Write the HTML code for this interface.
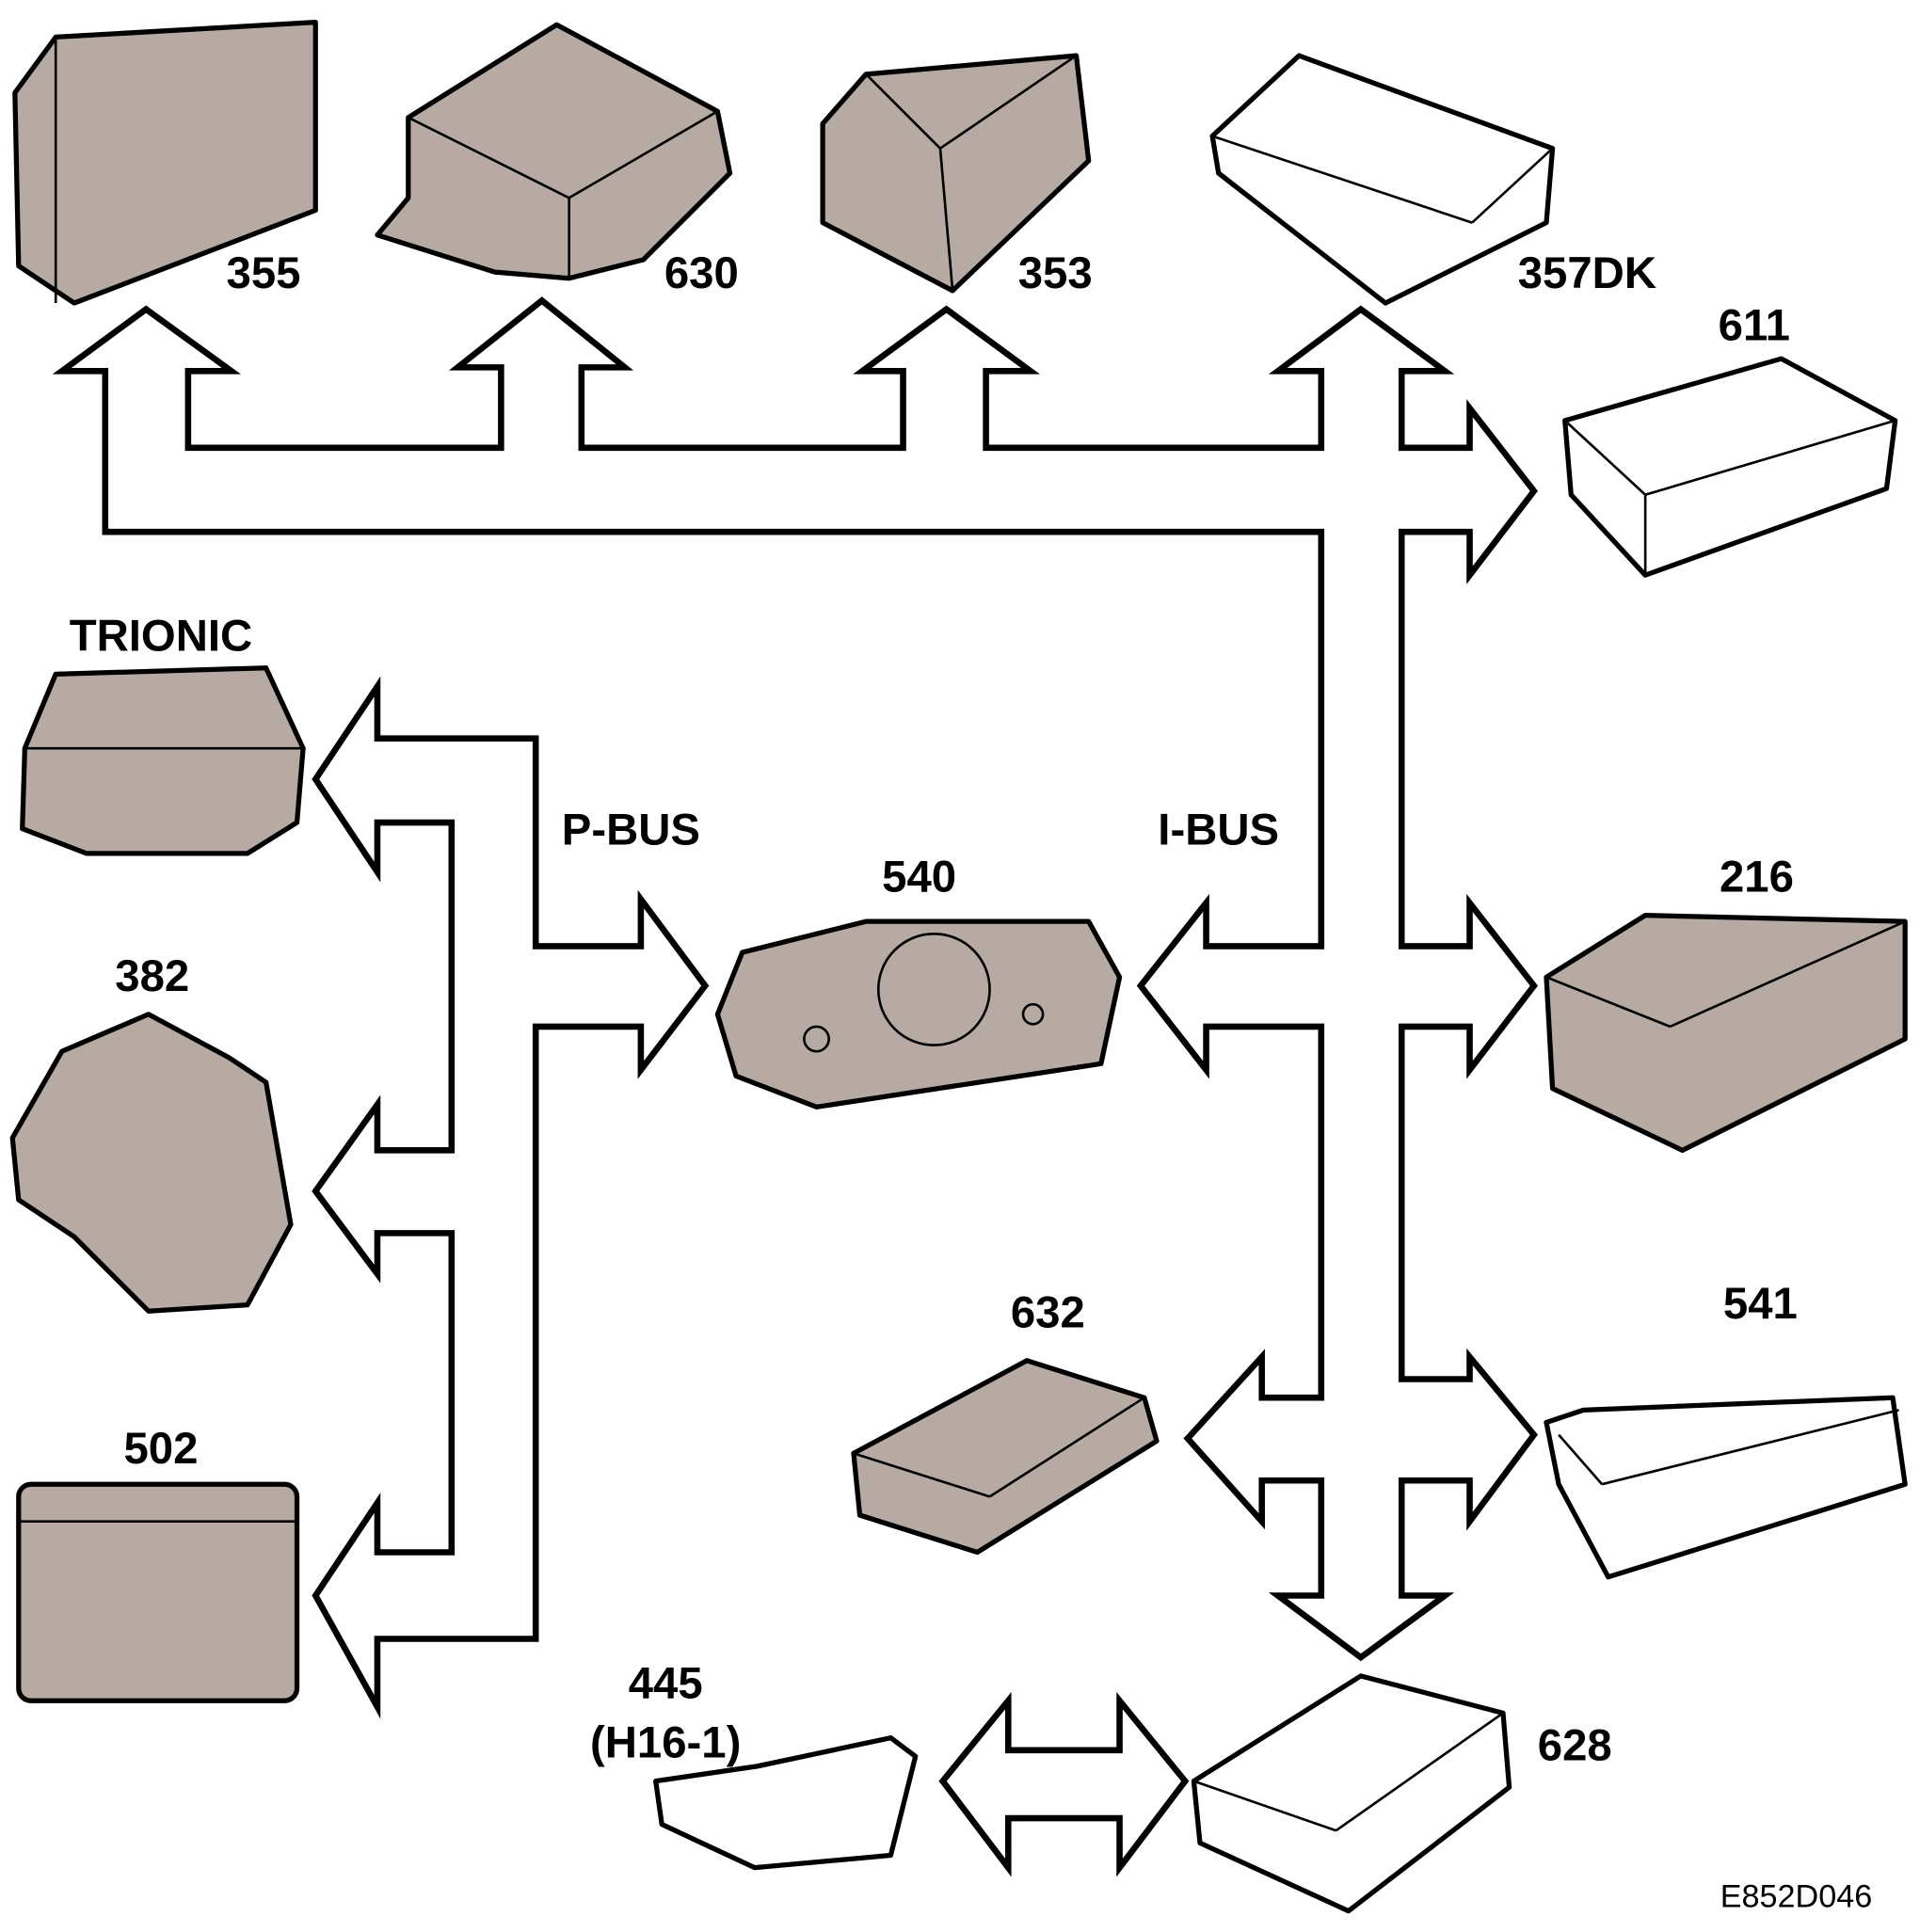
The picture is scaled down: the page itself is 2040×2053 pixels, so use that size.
<!DOCTYPE html>
<html><head><meta charset="utf-8"><style>
html,body{margin:0;padding:0;background:#fff;}
svg{display:block;}
text{font-family:"Liberation Sans",sans-serif;font-weight:bold;font-size:36px;fill:#000;}
</style></head><body>
<svg width="2040" height="2053" viewBox="0 0 1552 1562" xmlns="http://www.w3.org/2000/svg">
<g fill="#fff" stroke="#000" stroke-width="5" stroke-linejoin="miter">
<polygon points="85,430 85,300 50,300 118,250 187,300 152,300 152,362 405,362 405,297 370,297 438,243 505,297 470,297 470,362 730,362 730,300 697,300 765,250 833,300 797,300 797,362 1068,362 1068,300 1033,300 1100,250 1168,300 1133,300 1133,362 1188,362 1188,330 1240,397 1188,465 1188,430 1133,430 1133,765 1188,765 1188,730 1240,797 1188,865 1188,830 1133,830 1133,1115 1188,1115 1188,1097 1240,1160 1188,1230 1188,1197 1133,1197 1133,1290 1168,1290 1100,1340 1033,1290 1068,1290 1068,1197 1020,1197 1020,1230 960,1163 1020,1097 1020,1130 1068,1130 1068,830 975,830 975,865 922,797 975,730 975,765 1068,765 1068,430"/>
<polygon points="433,597 433,765 518,765 518,727 570,797 518,865 518,830 433,830 433,1325 305,1325 305,1380 255,1290 305,1215 305,1255 365,1255 365,997 305,997 305,1030 255,963 305,893 305,930 365,930 365,665 305,665 305,705 255,630 305,555 305,597"/>
<polygon points="762,1440 815,1375 815,1415 905,1415 905,1375 958,1440 905,1510 905,1470 815,1470 815,1510"/>
</g>
<g stroke="#000" stroke-width="4" stroke-linejoin="round">
<polygon fill="#b6aaa3" points="12,75 45,30 255,18 255,170 60,245 15,215"/>
<polygon fill="#b6aaa3" points="330,95 450,20 580,90 590,140 520,210 460,225 400,220 305,190 330,160"/>
<polygon fill="#b6aaa3" points="665,100 700,60 870,45 880,130 770,235 665,180"/>
<polygon fill="#fff" points="980,110 1050,45 1255,120 1250,180 1120,245 985,140"/>
<polygon fill="#fff" points="1265,340 1440,290 1532,340 1525,395 1330,465 1270,400"/>
<polygon fill="#b6aaa3" points="20,605 45,545 215,540 245,605 240,665 200,690 70,690 18,670"/>
<polygon fill="#b6aaa3" points="10,920 50,850 120,820 185,855 215,875 235,990 200,1055 120,1060 60,1000 15,970"/>
<rect fill="#b6aaa3" x="15" y="1200" width="225" height="175" rx="10"/>
<polygon fill="#b6aaa3" points="580,820 600,770 700,745 880,745 905,790 890,860 660,895 595,870"/>
<polygon fill="#b6aaa3" points="1250,790 1330,740 1540,745 1540,840 1360,930 1255,880"/>
<polygon fill="#b6aaa3" points="690,1175 830,1100 925,1130 935,1165 790,1255 695,1225"/>
<polygon fill="#fff" points="1250,1150 1280,1140 1530,1130 1540,1200 1300,1275 1260,1200"/>
<polygon fill="#fff" points="530,1440 612,1428 720,1405 740,1420 720,1500 610,1510 535,1475"/>
<polygon fill="#fff" points="965,1440 1100,1355 1215,1385 1220,1445 1090,1545 970,1490"/>
</g>
<g fill="none" stroke="#000" stroke-width="2">
<line x1="45" y1="30" x2="45" y2="245"/><line x1="330" y1="95" x2="460" y2="160"/><line x1="460" y1="160" x2="580" y2="90"/><line x1="460" y1="160" x2="460" y2="225"/>
<line x1="700" y1="60" x2="760" y2="120"/><line x1="760" y1="120" x2="870" y2="45"/><line x1="760" y1="120" x2="770" y2="235"/>
<line x1="980" y1="110" x2="1190" y2="180"/><line x1="1190" y1="180" x2="1255" y2="120"/>
<line x1="1265" y1="340" x2="1330" y2="400"/><line x1="1330" y1="400" x2="1532" y2="340"/><line x1="1330" y1="400" x2="1330" y2="465"/>
<line x1="20" y1="605" x2="245" y2="605"/><line x1="15" y1="1230" x2="240" y2="1230"/>
<line x1="690" y1="1175" x2="800" y2="1210"/><line x1="800" y1="1210" x2="925" y2="1130"/>
<line x1="1250" y1="790" x2="1350" y2="830"/><line x1="1350" y1="830" x2="1540" y2="745"/>
<line x1="1260" y1="1160" x2="1295" y2="1200"/><line x1="1295" y1="1200" x2="1535" y2="1140"/>
<line x1="965" y1="1440" x2="1080" y2="1480"/><line x1="1080" y1="1480" x2="1215" y2="1385"/>
<circle cx="660" cy="840" r="10"/><circle cx="755" cy="800" r="45"/><circle cx="835" cy="820" r="8"/>
</g>
<g text-anchor="middle">
<text x="213" y="233">355</text>
<text x="567" y="233">630</text>
<text x="853" y="233">353</text>
<text x="1283" y="233">357DK</text>
<text x="1418" y="275">611</text>
<text x="130" y="526">TRIONIC</text>
<text x="123" y="801">382</text>
<text x="130" y="1183">502</text>
<text x="510" y="683">P-BUS</text>
<text x="985" y="683">I-BUS</text>
<text x="743" y="721">540</text>
<text x="1420" y="721">216</text>
<text x="847" y="1073">632</text>
<text x="1423" y="1066">541</text>
<text x="538" y="1373">445</text>
<text x="538" y="1421">(H16-1)</text>
<text x="1273" y="1423">628</text>
<text x="1452" y="1542" style="font-weight:normal;font-size:26px">E852D046</text>
</g>
</svg>
</body></html>
